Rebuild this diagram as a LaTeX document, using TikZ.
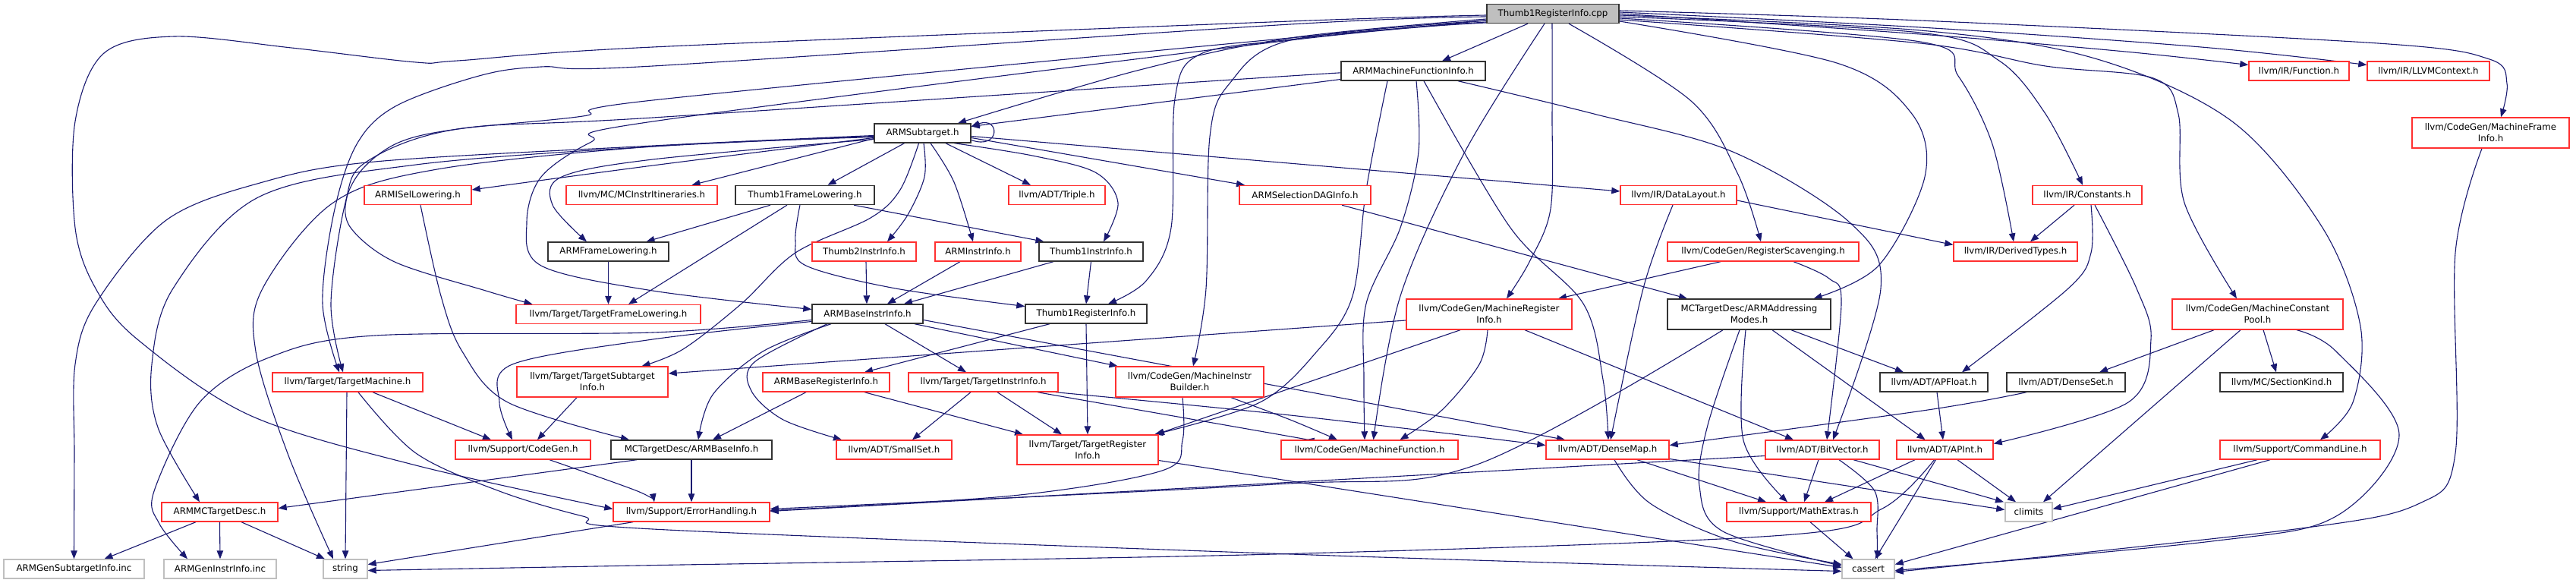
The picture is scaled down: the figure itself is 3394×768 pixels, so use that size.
\documentclass[tikz,border=0pt]{standalone}
\usepackage{fontspec}
\setmainfont{DejaVu Sans}
\usetikzlibrary{arrows.meta}
\definecolor{edgecol}{RGB}{25,25,112}
\definecolor{redb}{RGB}{255,48,48}
\definecolor{grayb}{RGB}{191,191,191}
\pgfdeclarelayer{bg}
\pgfsetlayers{bg,main}
\newcommand\edgeplot[1]{\draw[e] plot[smooth,tension=.55] coordinates {#1};}
\tikzset{
  nb/.style={draw, line width=1.4pt, fill=white, inner sep=0pt, minimum height=25pt,
             font=\fontsize{11.8}{15}\selectfont, align=center},
  rb/.style={nb, draw=redb},
  kb/.style={nb, draw=black!80},
  gb/.style={nb, draw=grayb},
  tl/.style={minimum height=40pt},
  e/.style={draw=edgecol, line width=1.1pt, -{Triangle[length=11pt,width=8.5pt]}}
}
\begin{document}
\begin{tikzpicture}[x=1pt,y=-1pt]
\useasboundingbox (0,0) rectangle (3394,768);
% nodes
\node[nb, draw=black!80, fill=grayb, minimum width=174pt] (cpp) at (2046,18) {Thumb1RegisterInfo.cpp};
\node[kb, minimum width=190pt] (amfi) at (1862,93.5) {ARMMachineFunctionInfo.h};
\node[rb, minimum width=132pt] (func) at (3029,93.5) {llvm/IR/Function.h};
\node[rb, minimum width=161pt] (ctx) at (3199.5,93.5) {llvm/IR/LLVMContext.h};
\node[kb, minimum width=127pt] (sub) at (1215.5,175.5) {ARMSubtarget.h};
\node[rb, tl, minimum width=207pt] (mfi) at (3281.5,175) {llvm/CodeGen/MachineFrame\\Info.h};
\node[rb, minimum width=141pt] (isel) at (550.5,257) {ARMISelLowering.h};
\node[rb, minimum width=199pt] (itin) at (845.5,257) {llvm/MC/MCInstrItineraries.h};
\node[kb, minimum width=183pt] (t1fl) at (1060.5,257) {Thumb1FrameLowering.h};
\node[rb, minimum width=127pt] (triple) at (1392.5,257) {llvm/ADT/Triple.h};
\node[rb, minimum width=173pt] (dag) at (1719.5,257) {ARMSelectionDAGInfo.h};
\node[rb, minimum width=153pt] (dl) at (2211.5,257) {llvm/IR/DataLayout.h};
\node[rb, minimum width=144pt] (const) at (2750,257) {llvm/IR/Constants.h};
\node[kb, minimum width=159pt] (afl) at (801.5,331.5) {ARMFrameLowering.h};
\node[rb, minimum width=137pt] (t2ii) at (1138.5,331.5) {Thumb2InstrInfo.h};
\node[rb, minimum width=113pt] (aii) at (1288.5,331.5) {ARMInstrInfo.h};
\node[kb, minimum width=137pt] (t1ii) at (1437.5,331.5) {Thumb1InstrInfo.h};
\node[rb, minimum width=252pt] (rs) at (2323,331.5) {llvm/CodeGen/RegisterScavenging.h};
\node[rb, minimum width=163pt] (dt) at (2655.5,331.5) {llvm/IR/DerivedTypes.h};
\node[rb, minimum width=243pt] (tfl) at (801.5,414) {llvm/Target/TargetFrameLowering.h};
\node[kb, minimum width=146pt] (abii) at (1143,413.5) {ARMBaseInstrInfo.h};
\node[kb, minimum width=160pt] (t1ri) at (1431,413.5) {Thumb1RegisterInfo.h};
\node[rb, tl, minimum width=218pt] (mri) at (1962,414) {llvm/CodeGen/MachineRegister\\Info.h};
\node[kb, tl, minimum width=215pt] (aam) at (2304.5,414) {MCTargetDesc/ARMAddressing\\Modes.h};
\node[rb, tl, minimum width=225pt] (mcp) at (2974.5,414) {llvm/CodeGen/MachineConstant\\Pool.h};
\node[rb, minimum width=198pt] (tm) at (458,503.5) {llvm/Target/TargetMachine.h};
\node[rb, tl, minimum width=199pt] (tsi) at (780.5,503) {llvm/Target/TargetSubtarget\\Info.h};
\node[rb, minimum width=167pt] (abri) at (1088.5,503.5) {ARMBaseRegisterInfo.h};
\node[rb, minimum width=197pt] (tii) at (1295.5,503.5) {llvm/Target/TargetInstrInfo.h};
\node[rb, tl, minimum width=195pt] (mib) at (1567.5,503) {llvm/CodeGen/MachineInstr\\Builder.h};
\node[kb, minimum width=142pt] (apf) at (2548,503.5) {llvm/ADT/APFloat.h};
\node[kb, minimum width=156pt] (dset) at (2722,503.5) {llvm/ADT/DenseSet.h};
\node[kb, minimum width=162pt] (sk) at (3006,503.5) {llvm/MC/SectionKind.h};
\node[rb, minimum width=178pt] (cg) at (689,592.5) {llvm/Support/CodeGen.h};
\node[kb, minimum width=212pt] (abi) at (911,592.5) {MCTargetDesc/ARMBaseInfo.h};
\node[rb, minimum width=152pt] (ss) at (1178,592.5) {llvm/ADT/SmallSet.h};
\node[rb, minimum width=186pt, minimum height=39pt] (tri) at (1433,592.5) {llvm/Target/TargetRegister\\Info.h};
\node[rb, minimum width=233pt] (mf) at (1804.5,592.5) {llvm/CodeGen/MachineFunction.h};
\node[rb, minimum width=162pt] (dm) at (2118,592.5) {llvm/ADT/DenseMap.h};
\node[rb, minimum width=150pt] (bv) at (2401,592.5) {llvm/ADT/BitVector.h};
\node[rb, minimum width=127pt] (api) at (2562.5,592.5) {llvm/ADT/APInt.h};
\node[rb, minimum width=211pt] (cl) at (3030.5,592.5) {llvm/Support/CommandLine.h};
\node[rb, minimum width=153pt] (mcd) at (289.5,674.5) {ARMMCTargetDesc.h};
\node[rb, minimum width=206pt] (eh) at (911,674.5) {llvm/Support/ErrorHandling.h};
\node[rb, minimum width=190pt] (me) at (2370,674.5) {llvm/Support/MathExtras.h};
\node[gb, minimum width=62pt] (climits) at (2673,674.5) {climits};
\node[gb, minimum width=185pt] (gsi) at (97.5,749.5) {ARMGenSubtargetInfo.inc};
\node[gb, minimum width=148pt] (gii) at (290,749.5) {ARMGenInstrInfo.inc};
\node[gb, minimum width=58pt] (str) at (455,749.5) {string};
\node[gb, minimum width=69pt] (cassert) at (2461.5,749.5) {cassert};

\begin{pgfonlayer}{bg}
% from cpp
\draw[e] ([xshift=-33pt]cpp.south) -- ([xshift=38pt]amfi.north);
\edgeplot{([xshift=-11pt]cpp.south) (1930,200) (1845,390) ([xshift=5pt]mf.north)}
\edgeplot{([xshift=-1pt]cpp.south) (2045,150) (2043,275) (2015,345) ([xshift=23pt]mri.north)}
\edgeplot{([xshift=21pt]cpp.south) (2228,133) (2290,230) ([xshift=-3pt]rs.north)}
\edgeplot{([yshift=-10pt]cpp.east) (2420,83) (2519,150) (2536,233) (2475,350) ([xshift=85pt]aam.north)}
\edgeplot{(cpp.east) (2530,45) (2800,68) ([yshift=8pt]func.west)}
\edgeplot{([yshift=2pt]cpp.east) (2530,36) (2900,62) ([yshift=8pt]ctx.west)}
\edgeplot{([yshift=4pt]cpp.east) (2530,27) (3133,57) (3280,78) (3303,110) ([xshift=13.5pt]mfi.north)}
\edgeplot{([yshift=-4pt]cpp.east) (2530,43) (2634,80) (2695,150) ([xshift=-6pt]const.north)}
\edgeplot{([yshift=-6pt]cpp.east) (2530,55) (2580,100) (2625,190) ([xshift=-2.5pt]dt.north)}
\edgeplot{([yshift=-8pt]cpp.east) (2530,57) (2695,87) (2837,103) (2870,150) (2878,267) ([xshift=-27.5pt]mcp.north)}
\edgeplot{([yshift=-2pt]cpp.east) (2530,40) (2760,77) (2941,160) (3060,300) (3110,430) (3100,530) ([xshift=26.5pt]cl.north)}
\edgeplot{([yshift=-7pt]cpp.west) (1700,50) (1498,93) ([xshift=46.5pt]sub.north)}
\edgeplot{([yshift=-9pt]cpp.west) (1700,52) (1580,72) (1548,130) (1543,300) (1510,370) ([xshift=29pt]t1ri.north)}
\edgeplot{([yshift=-9pt]cpp.west) (1700,53) (1620,110) (1594,180) (1589,380) ([xshift=4.5pt]mib.north)}
\edgeplot{([yshift=-2pt]cpp.west) (1700,28) (860,62) (603,80) (548,82) (384,63) (230,48) (137,70) (99,160) (99,300) (126,380) (181,447) (329,547) (548,613) ([yshift=4pt]eh.west)}
\edgeplot{([yshift=-4pt]cpp.west) (1700,32) (860,87) (713,88) (631,100) (521,140) (470,190) (440,280) (425,400) ([xshift=-11pt]tm.north)}
\edgeplot{([yshift=-11pt]cpp.west) (1700,50) (860,132) (768,153) (603,170) (527,187) (480,220) (457,260) (462,300) (520,345) (640,383) ([xshift=-100pt]tfl.north)}
\edgeplot{([yshift=-12pt]cpp.west) (1700,53) (860,160) (779,187) (713,233) (694,293) (713,350) (860,383) ([yshift=6pt]abii.west)}
% from amfi
\edgeplot{([yshift=-3pt]amfi.west) (1700,100) (860,155) (603,170) (483,213) (455,267) (436,400) ([xshift=-6pt]tm.north)}
\draw[e] ([yshift=-11pt]amfi.west) -- ([yshift=9pt]sub.east);
\edgeplot{([xshift=-34pt]amfi.south) (1800,250) (1782,390) (1735,463) (1660,530) ([xshift=88pt]tri.north)}
\edgeplot{([xshift=4pt]amfi.south) (1869,200) (1845,300) (1800,400) (1797,500) ([xshift=-6.5pt]mf.north)}
\edgeplot{([xshift=14pt]amfi.south) (1990,300) (2086,400) (2112,500) ([xshift=1pt]dm.north)}
\edgeplot{([xshift=59pt]amfi.south) (2100,150) (2283,200) (2437,293) (2478,380) ([xshift=14pt]bv.north)}
% from sub
\draw[e] ([yshift=-9pt]sub.east) .. controls (1318,198) and (1318,153) .. ([yshift=9pt]sub.east);
\edgeplot{([yshift=-6pt]sub.west) (860,218) ([yshift=7pt]isel.east)}
\draw[e] ([yshift=-7pt]sub.west) -- ([xshift=66pt]itin.north);
\edgeplot{([yshift=-8pt]sub.west) (860,210) (740,233) (728,270) ([xshift=-28.5pt]afl.north)}
\draw[e] ([xshift=-24pt]sub.south) -- ([xshift=30pt]t1fl.north);
\edgeplot{([xshift=1.5pt]sub.south) (1218,233) (1196,283) ([xshift=30.5pt]t2ii.north)}
\edgeplot{([xshift=10.5pt]sub.south) (1257,240) ([xshift=-6.5pt]aii.north)}
\draw[e] ([xshift=30.5pt]sub.south) -- ([xshift=-34.5pt]triple.north);
\edgeplot{([xshift=42pt]sub.south) (1360,205) (1443,227) (1473,267) ([xshift=16.5pt]t1ii.north)}
\draw[e] ([yshift=-6pt]sub.east) -- ([xshift=-79.5pt]dag.north);
\draw[e] ([yshift=-4pt]sub.east) -- ([yshift=5pt]dl.west);
\edgeplot{([xshift=-5pt]sub.south) (1186,250) (1147,287) (1048,333) (977,400) (900,460) ([xshift=65pt]tsi.north)}
\edgeplot{([yshift=-3pt]sub.west) (860,192) (494,213) (346,240) (219,290) (126,400) (99,480) (98,600) (gsi.north)}
\edgeplot{([yshift=-4pt]sub.west) (860,193) (548,217) (340,260) (228,380) (200,480) (208,563) ([xshift=-26.5pt]mcd.north)}
\edgeplot{([yshift=-5pt]sub.west) (860,193) (576,223) (439,267) (346,380) (337,463) (380,600) ([xshift=-16pt]str.north)}
% t1fl
\draw[e] ([xshift=-45.5pt]t1fl.south) -- ([xshift=50pt]afl.north);
\draw[e] ([xshift=-23.5pt]t1fl.south) -- ([xshift=26.5pt]tfl.north);
\edgeplot{([xshift=-6.5pt]t1fl.south) (1048,317) (1062,350) (1180,380) ([yshift=10pt]t1ri.west)}
\draw[e] ([xshift=64.5pt]t1fl.south) -- ([xshift=-62pt]t1ii.north);
% row D/E
\draw[e] (afl.south) -- (tfl.north);
\edgeplot{([xshift=3.5pt]isel.south) (581,390) (609,463) (669,530) ([xshift=-82pt]abi.north)}
\draw[e] ([xshift=48.5pt]dag.south) -- ([xshift=-81.5pt]aam.north);
\edgeplot{([xshift=-7.5pt]dl.south) (2165,380) ([xshift=4pt]dm.north)}
\draw[e] ([yshift=-7pt]dl.east) -- ([yshift=9pt]dt.west);
\draw[e] ([xshift=-17pt]const.south) -- ([xshift=19.5pt]dt.north);
\edgeplot{([xshift=5pt]const.south) (2755,333) (2725,380) ([xshift=37pt]apf.north)}
\edgeplot{([xshift=10pt]const.south) (2815,380) (2834,447) (2804,530) ([yshift=8pt]api.east)}
\draw[e] ([xshift=2.5pt]t2ii.south) -- ([xshift=-1pt]abii.north);
\draw[e] ([xshift=-23.5pt]aii.south) -- ([xshift=26pt]abii.north);
\draw[e] ([xshift=-49.5pt]t1ii.south) -- ([xshift=48pt]abii.north);
\draw[e] (t1ii.south) -- (t1ri.north);
\draw[e] ([xshift=-56pt]rs.south) -- ([xshift=91pt]mri.north);
\edgeplot{([xshift=40pt]rs.south) (2410,367) (2426,400) ([xshift=6pt]bv.north)}
% abii
\edgeplot{([yshift=-8pt]abii.west) (860,438) (494,442) (357,470) (263,530) (203,647) (210,690) ([xshift=-43pt]gii.north)}
\edgeplot{([yshift=-10pt]abii.west) (860,447) (675,480) (658,530) ([xshift=-14pt]cg.north)}
\edgeplot{([xshift=-48pt]abii.south) (1005,463) (939,520) ([xshift=9pt]abi.north)}
\edgeplot{([xshift=-53pt]abii.south) (994,477) (990,515) (1032,553) ([xshift=-69pt]ss.north)}
\draw[e] ([xshift=23pt]abii.south) -- ([xshift=-22.5pt]tii.north);
\draw[e] ([xshift=62pt]abii.south) -- ([xshift=-95pt]mib.north);
\draw[e] ([yshift=-8pt]abii.east) -- ([xshift=-56pt]dm.north);
% t1ri
\draw[e] ([xshift=-48pt]t1ri.south) -- ([xshift=50.5pt]abri.north);
\draw[e] (t1ri.south) -- (tri.north);
% mri
\draw[e] ([yshift=-8pt]mri.west) -- ([yshift=11pt]tsi.east);
\draw[e] ([xshift=-38pt]mri.south) -- ([xshift=90pt]tri.north);
\edgeplot{([xshift=-2pt]mri.south) (1949,480) (1900,540) ([xshift=40pt]mf.north)}
\draw[e] ([xshift=47pt]mri.south) -- ([xshift=-38pt]bv.north);
% aam
\edgeplot{([xshift=-34.5pt]aam.south) (1943,613) (1680,638) ([yshift=4pt]eh.east)}
\edgeplot{([xshift=-12.5pt]aam.south) (2250,560) (2239,640) (2270,700) ([yshift=4pt]cassert.west)}
\edgeplot{([xshift=-4.5pt]aam.south) (2297,580) ([xshift=-15pt]me.north)}
\draw[e] ([xshift=55.5pt]aam.south) -- ([xshift=-40pt]apf.north);
\draw[e] ([xshift=30.5pt]aam.south) -- ([xshift=-26pt]api.north);
% mcp, mfi
\draw[e] ([xshift=-57.5pt]mcp.south) -- ([xshift=44pt]dset.north);
\draw[e] ([xshift=7.5pt]mcp.south) -- ([xshift=-7pt]sk.north);
\draw[e] ([xshift=-22.5pt]mcp.south) -- ([xshift=19pt]climits.north);
\edgeplot{([xshift=51.5pt]mcp.south) (3078,463) (3161,573) (3078,680) (2914,713) ([yshift=-2pt]cassert.east)}
\edgeplot{([xshift=-11.5pt]mfi.south) (3235,333) (3235,597) (3188,663) (3024,697) ([yshift=-4pt]cassert.east)}
% tm, tsi, abri, tii, mib
\draw[e] ([xshift=33pt]tm.south) -- ([xshift=-42pt]cg.north);
\draw[e] ([xshift=-1pt]tm.south) -- (str.north);
\edgeplot{([xshift=14pt]tm.south) (548,597) (658,647) (768,680) (860,697) (1700,730) ([yshift=-3pt]cassert.west)}
\draw[e] ([xshift=-20.5pt]tsi.south) -- ([xshift=19pt]cg.north);
\draw[e] ([xshift=-26.5pt]abri.south) -- ([xshift=28pt]abi.north);
\draw[e] ([xshift=50.5pt]abri.south) -- ([xshift=-85pt]tri.north);
\draw[e] ([xshift=-16.5pt]tii.south) -- ([xshift=24pt]ss.north);
\draw[e] ([xshift=18.5pt]tii.south) -- ([xshift=-34pt]tri.north);
\edgeplot{([xshift=71.5pt]tii.south) (1700,575) ([xshift=-84pt]mf.north)}
\edgeplot{([xshift=95.5pt]tii.south) (1700,547) ([yshift=6pt]dm.west)}
\edgeplot{([xshift=54.5pt]mib.south) (1700,553) ([xshift=-42.5pt]mf.north)}
\edgeplot{([xshift=-9.5pt]mib.south) (1558,580) (1531,620) (1334,653) ([yshift=2pt]eh.east)}
% lower rows
\draw[e] ([xshift=4pt]apf.south) -- ([xshift=-2.5pt]api.north);
\edgeplot{([xshift=-52pt]dset.south) (2540,540) ([yshift=6pt]dm.east)}
\edgeplot{([xshift=35pt]cg.south) (840,647) ([xshift=-49pt]eh.north)}
\draw[e] ([xshift=-72pt]abi.south) -- ([yshift=5pt]mcd.east);
\draw[e] (abi.south) -- (eh.north);
\draw[e] ([yshift=-14pt]tri.east) -- ([yshift=2pt]cassert.west);
\draw[e] ([xshift=39pt]dm.south) -- ([xshift=-43pt]me.north);
\edgeplot{([xshift=9pt]dm.south) (2174,663) (2283,713) ([yshift=6pt]cassert.west)}
\draw[e] ([yshift=-12pt]dm.east) -- ([yshift=3pt]climits.west);
\draw[e] ([yshift=-8pt]bv.west) -- ([yshift=1pt]eh.east);
\draw[e] ([xshift=-5pt]bv.south) -- ([xshift=7pt]me.north);
\edgeplot{([xshift=22pt]bv.south) (2470,647) (2473,700) ([xshift=12pt]cassert.north)}
\draw[e] ([xshift=41pt]bv.south) -- ([xshift=-33pt]climits.north);
\draw[e] ([xshift=-39.5pt]api.south) -- ([xshift=34pt]me.north);
\draw[e] ([xshift=-12pt]api.south) -- ([xshift=9pt]cassert.north);
\draw[e] ([xshift=16.5pt]api.south) -- ([xshift=-17pt]climits.north);
\edgeplot{([xshift=-14pt]api.south) (2480,670) (2350,705) (1680,730) (840,745) ([yshift=-2pt]str.east)}
\draw[e] ([xshift=15pt]me.south) -- ([xshift=-20pt]cassert.north);
\draw[e] ([xshift=-56.5pt]cl.south) -- ([yshift=4pt]climits.east);
\draw[e] ([xshift=-39.5pt]cl.south) -- ([yshift=6pt]cassert.east);
\draw[e] ([xshift=-31.5pt]mcd.south) -- ([xshift=40pt]gsi.north);
\draw[e] (mcd.south) -- (gii.north);
\draw[e] ([xshift=28.5pt]mcd.south) -- ([xshift=-27pt]str.north);
\draw[e] ([xshift=-77pt]eh.south) -- ([yshift=6pt]str.east);
\end{pgfonlayer}
\end{tikzpicture}
\end{document}
